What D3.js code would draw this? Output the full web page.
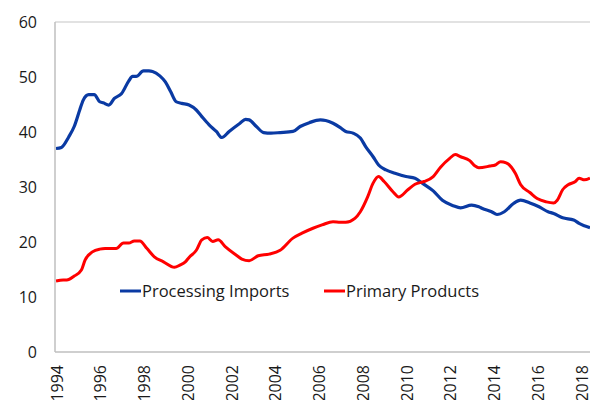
<!DOCTYPE html>
<html>
<head>
<meta charset="utf-8">
<script src="https://cdn.jsdelivr.net/npm/d3@7"></script>
<style>
  body { margin: 0; background: #fff; }
  text { font-family: "Open Sans", sans-serif; fill: #1a1a1a; }
</style>
</head>
<body>
<script>
// Processing Imports (blue)
var piDates = ["1994-01","1994-04","1994-08","1994-11","1995-02","1995-04","1995-07","1995-10",
  "1996-01","1996-03","1996-06","1996-09","1997-01","1997-05","1997-07","1997-09",
  "1998-01","1998-04","1998-06","1998-10","1999-01","1999-04","1999-07","1999-10",
  "2000-02","2000-06","2000-09","2001-01","2001-05","2001-08","2001-12","2002-06",
  "2002-09","2002-11","2003-03","2003-07","2003-11","2004-04","2004-11","2005-03",
  "2005-08","2006-02","2006-05","2006-09","2007-01","2007-04","2007-08","2007-12",
  "2008-03","2008-07","2008-10","2009-02","2009-07","2010-01","2010-06","2010-10",
  "2011-04","2011-09","2012-03","2012-07","2013-01","2013-05","2013-07","2013-12",
  "2014-03","2014-07","2014-12","2015-04","2015-09","2016-02","2016-07","2016-10",
  "2017-03","2017-09","2017-12","2018-06"];
var piValues = [37.0,37.2,39.1,41.0,44.0,45.8,46.8,46.8,
  45.5,45.3,44.9,46.1,47.0,49.3,50.1,50.1,
  51.1,51.1,51.0,50.2,49.1,47.3,45.5,45.2,
  44.9,44.0,42.8,41.3,40.1,39.0,40.1,41.6,
  42.3,42.2,41.0,39.9,39.8,39.9,40.1,41.0,
  41.7,42.2,42.1,41.6,40.8,40.1,39.8,38.9,
  37.3,35.5,34.0,33.1,32.5,31.9,31.6,30.7,
  29.3,27.6,26.6,26.2,26.7,26.4,26.1,25.5,
  25.0,25.5,27.0,27.6,27.1,26.4,25.5,25.2,
  24.4,24.0,23.4,22.6];

// Primary Products (red)
var ppDates = ["1994-01","1994-05","1994-07","1994-11","1995-03","1995-05","1995-09","1996-01",
  "1996-04","1996-10","1997-02","1997-05","1997-08","1997-11","1998-03","1998-07",
  "1998-12","1999-06","1999-09","1999-12","2000-02","2000-06","2000-09","2000-12",
  "2001-03","2001-06","2001-10","2002-04","2002-07","2002-11","2003-04","2003-10",
  "2004-04","2004-11","2005-04","2005-10","2006-03","2006-09","2007-01","2007-04",
  "2007-09","2007-12","2008-04","2008-07","2008-10","2009-01","2009-06","2009-09",
  "2010-02","2010-06","2010-11","2011-04","2011-08","2012-01","2012-04","2012-07",
  "2012-12","2013-03","2013-05","2013-11","2014-02","2014-05","2014-08","2015-01",
  "2015-04","2015-09","2016-01","2016-06","2016-10","2016-12","2017-03","2017-06",
  "2017-10","2017-12","2018-03","2018-06"];
var ppValues = [12.9,13.1,13.1,13.8,14.9,16.7,18.2,18.7,
  18.8,18.8,19.8,19.8,20.2,20.2,18.8,17.3,
  16.4,15.4,15.8,16.4,17.2,18.5,20.4,20.8,
  20.1,20.4,19.1,17.6,16.9,16.6,17.5,17.8,
  18.5,20.7,21.6,22.5,23.1,23.7,23.6,23.6,
  24.3,25.5,28.2,30.7,31.9,31.0,29.1,28.2,
  29.5,30.5,31.0,31.9,33.6,35.2,35.9,35.5,
  34.8,33.8,33.5,33.8,34.0,34.6,34.4,32.5,
  30.4,29.0,27.9,27.3,27.1,27.6,29.5,30.4,
  31.0,31.6,31.3,31.6];

var yTicks = [0, 10, 20, 30, 40, 50, 60];
var xTickYears = d3.range(1994, 2019, 2);
var seriesNames = ["Processing Imports", "Primary Products"];
var seriesColors = ["#0A3AA3", "#FF0000"];

var width = 590, height = 400;
var plotLeft = 55, plotRight = 590, plotTop = 22, plotBottom = 352;
var parse = d3.timeParse("%Y-%m");

var svg = d3.select("body").append("svg")
    .attr("width", width)
    .attr("height", height);

var x = d3.scaleTime()
    .domain([parse("1994-01"), parse("2018-06")])
    .range([plotLeft + 1, plotRight]);

var y = d3.scaleLinear()
    .domain([0, 60])
    .range([plotBottom, plotTop]);

// top gridline
svg.append("line")
    .attr("x1", plotLeft).attr("x2", plotRight)
    .attr("y1", y(60)).attr("y2", y(60))
    .style("stroke", "#D9D9D9")
    .style("stroke-width", 1.5);

// y labels
svg.selectAll("text.ylab")
    .data(yTicks)
    .enter().append("text")
    .attr("class", "ylab")
    .attr("x", 37)
    .attr("y", function (d) { return y(d); })
    .attr("dy", "0.35em")
    .attr("text-anchor", "end")
    .style("font-size", "16px")
    .text(function (d) { return d; });

// x labels (rotated)
svg.selectAll("text.xlab")
    .data(xTickYears)
    .enter().append("text")
    .attr("class", "xlab")
    .attr("transform", function (d) {
        return "translate(" + (x(new Date(d, 0, 1)) + 1) + "," + 365 + ") rotate(-90)";
    })
    .attr("dy", "0.35em")
    .attr("text-anchor", "end")
    .style("font-size", "16px")
    .text(function (d) { return d; });

var line = d3.line()
    .curve(d3.curveMonotoneX)
    .x(function (d) { return x(d[0]); })
    .y(function (d) { return y(d[1]); });

var piData = piDates.map(function (d, i) { return [parse(d), piValues[i]]; });
var ppData = ppDates.map(function (d, i) { return [parse(d), ppValues[i]]; });

svg.append("path")
    .datum(piData)
    .attr("d", line)
    .style("fill", "none")
    .style("stroke", seriesColors[0])
    .style("stroke-width", 3.2)
    .style("stroke-linejoin", "round");

svg.append("path")
    .datum(ppData)
    .attr("d", line)
    .style("fill", "none")
    .style("stroke", seriesColors[1])
    .style("stroke-width", 3)
    .style("stroke-linejoin", "round");

// axes lines
svg.append("line")
    .attr("x1", plotLeft).attr("x2", plotLeft)
    .attr("y1", plotTop).attr("y2", plotBottom)
    .style("stroke", "#BFBFBF")
    .style("stroke-width", 1.5);

svg.append("line")
    .attr("x1", plotLeft).attr("x2", plotRight)
    .attr("y1", plotBottom).attr("y2", plotBottom)
    .style("stroke", "#BFBFBF")
    .style("stroke-width", 1.5);

// legend
var legendX = [120, 324];
var leg = svg.selectAll("g.legend")
    .data(seriesNames)
    .enter().append("g")
    .attr("class", "legend")
    .attr("transform", function (d, i) { return "translate(" + legendX[i] + ",291)"; });

leg.append("line")
    .attr("x1", 0).attr("x2", 21)
    .style("stroke", function (d, i) { return seriesColors[i]; })
    .style("stroke-width", 3);

leg.append("text")
    .attr("x", 22)
    .attr("dy", "0.35em")
    .style("font-size", "16.5px")
    .text(function (d) { return d; });
</script>
</body>
</html>
